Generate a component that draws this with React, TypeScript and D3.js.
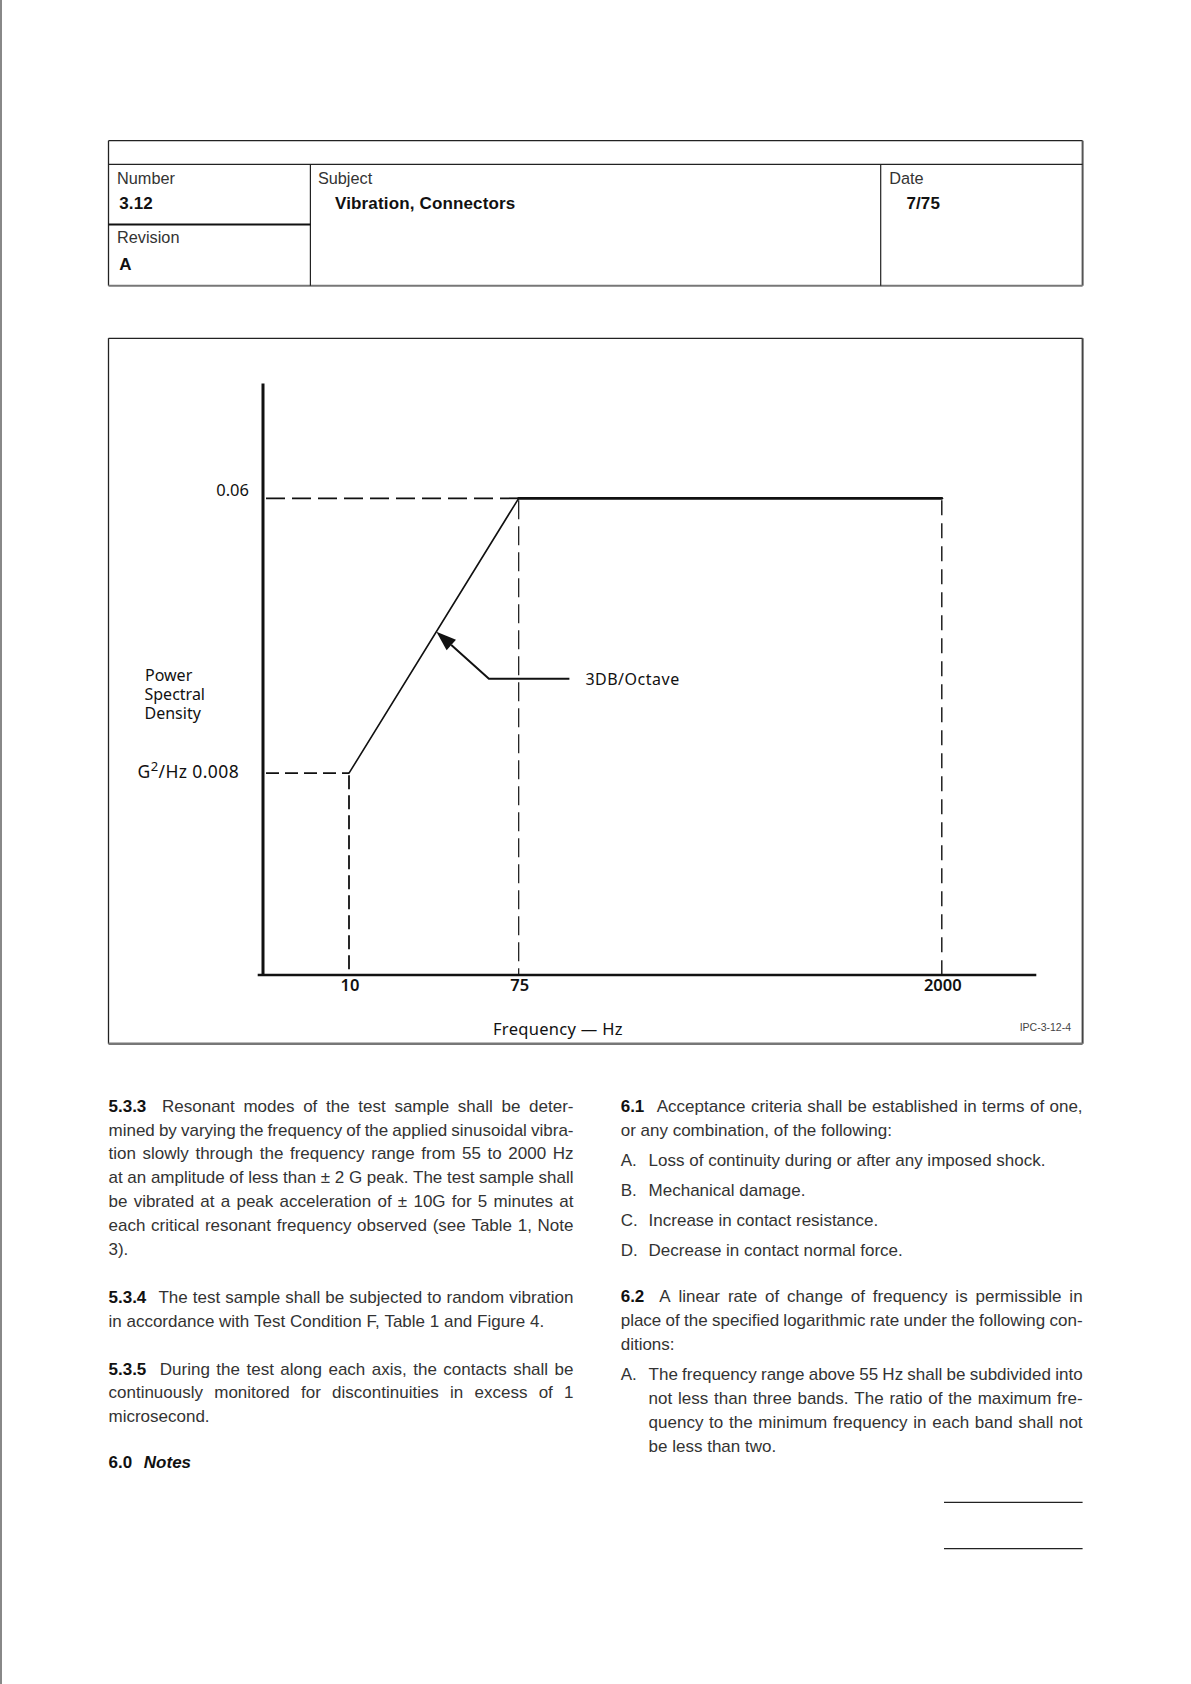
import React from 'react'
import * as d3 from 'd3'

// psd test profile (schematic)
const freqTicks = [10, 75, 2000]
const psdTicks = [0.008, 0.06]
const psdProfile = [
  { freq: 10, psd: 0.008 },
  { freq: 75, psd: 0.06 },
  { freq: 2000, psd: 0.06 },
]
const slopeNote = { label: '3DB/Octave', along: 0.515 }
const yTitle = ['Power', 'Spectral', 'Density']
const xTitle = 'Frequency — Hz'
const figureId = 'IPC-3-12-4'

const headerCells = [
  { title: 'Number', value: '3.12' },
  { title: 'Subject', value: 'Vibration, Connectors' },
  { title: 'Date', value: '7/75' },
  { title: 'Revision', value: 'A' },
]

const leftParas = [
  {
    label: '5.3.3',
    lines: [
      'Resonant modes of the test sample shall be deter-',
      'mined by varying the frequency of the applied sinusoidal vibra-',
      'tion slowly through the frequency range from 55 to 2000 Hz',
      'at an amplitude of less than ± 2 G peak. The test sample shall',
      'be vibrated at a peak acceleration of ± 10G for 5 minutes at',
      'each critical resonant frequency observed (see Table 1, Note',
      '3).',
    ],
  },
  {
    label: '5.3.4',
    lines: [
      'The test sample shall be subjected to random vibration',
      'in accordance with Test Condition F, Table 1 and Figure 4.',
    ],
  },
  {
    label: '5.3.5',
    lines: [
      'During the test along each axis, the contacts shall be',
      'continuously monitored for discontinuities in excess of 1',
      'microsecond.',
    ],
  },
]
const notesHeading = { label: '6.0', text: 'Notes' }

const rightBlocks = [
  {
    label: '6.1',
    lines: [
      'Acceptance criteria shall be established in terms of one,',
      'or any combination, of the following:',
    ],
    items: [
      { key: 'A.', lines: ['Loss of continuity during or after any imposed shock.'] },
      { key: 'B.', lines: ['Mechanical damage.'] },
      { key: 'C.', lines: ['Increase in contact resistance.'] },
      { key: 'D.', lines: ['Decrease in contact normal force.'] },
    ],
  },
  {
    label: '6.2',
    lines: [
      'A linear rate of change of frequency is permissible in',
      'place of the specified logarithmic rate under the following con-',
      'ditions:',
    ],
    items: [
      {
        key: 'A.',
        lines: [
          'The frequency range above 55 Hz shall be subdivided into',
          'not less than three bands. The ratio of the maximum fre-',
          'quency to the minimum frequency in each band shall not',
          'be less than two.',
        ],
      },
    ],
  },
]

const W = 1191
const H = 1684
const BODY = '"Liberation Sans", Arial, Helvetica, sans-serif'
const CHART = '"Noto Sans", "DejaVu Sans", sans-serif'
const bodySize = 17
const lineH = 23.9
const ink = '#333'

let measureCtx: CanvasRenderingContext2D | null = null
const textWidth = (s: string, font: string) => {
  if (!measureCtx) measureCtx = document.createElement('canvas').getContext('2d')
  measureCtx!.font = font
  return measureCtx!.measureText(s).width
}

type Word = { t: string, bold?: boolean, italic?: boolean, extra?: number }

const fontOf = (w: Word) => `${w.italic ? 'italic ' : ''}${w.bold ? 'bold ' : ''}${bodySize}px ${BODY}`

// one text line, words spread to the column width when justify is set
const TextLine = ({ x, y, width, words, justify }: { x: number, y: number, width: number, words: Word[], justify: boolean }) => {
  const widths = words.map((w) => textWidth(w.t, fontOf(w)))
  const extras = words.map((w) => w.extra || 0)
  const space = textWidth(' ', `${bodySize}px ${BODY}`)
  const gap = justify && words.length > 1
    ? (width - d3.sum(widths) - d3.sum(extras)) / (words.length - 1)
    : space
  let cx = x
  const xs = words.map((w, i) => {
    const p = cx
    cx += widths[i] + extras[i] + gap
    return p
  })
  return (
    <text y={y} fontFamily={BODY} fontSize={bodySize} fill={ink}>
      {words.map((w, i) => (
        <tspan key={i} x={xs[i]} fontWeight={w.bold ? 'bold' : 'normal'} fontStyle={w.italic ? 'italic' : 'normal'} fill={w.bold ? '#111' : ink}>{w.t}</tspan>
      ))}
    </text>
  )
}

const toWords = (s: string): Word[] => s.split(' ').filter(Boolean).map((t) => ({ t }))

export default function App() {
  // chart scales
  const x = d3.scaleLinear().domain(freqTicks).range([349, 518.7, 941.8])
  const y = d3.scaleLog().domain(psdTicks).range([773.2, 498.3])
  const axisX = 263
  const axisY = 975
  const line = d3.line<{ freq: number, psd: number }>().x((d) => x(d.freq)).y((d) => y(d.psd))
  const segments = d3.pairs(psdProfile)

  const rise = segments[0]
  const tip = d3.interpolate([x(rise[0].freq), y(rise[0].psd)], [x(rise[1].freq), y(rise[1].psd)])(slopeNote.along)
  const elbow = [tip[0] + 52.5, tip[1] + 47]
  const legEnd = [tip[0] + 133, tip[1] + 47]
  const ang = Math.atan2(tip[1] - elbow[1], tip[0] - elbow[0])
  const headL = 20
  const headW = 7
  const hx = tip[0] - headL * Math.cos(ang)
  const hy = tip[1] - headL * Math.sin(ang)
  const head = [
    [tip[0], tip[1]],
    [hx + headW * Math.sin(ang), hy - headW * Math.cos(ang)],
    [hx - headW * Math.sin(ang), hy + headW * Math.cos(ang)],
  ]

  const vDash = ['14 6', '19 7', '15 8']
  const vWidth = [1.8, 1.2, 1.4]

  // text layout
  const leftX = 108.5
  const leftW = 573.5 - 108.5
  const rightX = 620.7
  const rightW = 1082.6 - 620.7
  const itemIndent = 648.6 - 620.7
  const top = 1111.6

  const leftLines: React.ReactNode[] = []
  let cy = top
  leftParas.forEach((p, pi) => {
    p.lines.forEach((l, li) => {
      const words = li === 0 ? [{ t: p.label, bold: true, extra: 7 }, ...toWords(l)] : toWords(l)
      leftLines.push(<TextLine key={`${pi}-${li}`} x={leftX} y={cy} width={leftW} words={words} justify={li < p.lines.length - 1} />)
      cy += lineH
    })
    cy += lineH
  })
  leftLines.push(
    <TextLine key="notes" x={leftX} y={cy - 2} width={leftW} justify={false}
      words={[{ t: notesHeading.label, bold: true, extra: 7 }, { t: notesHeading.text, bold: true, italic: true }]} />,
  )

  const rightLines: React.ReactNode[] = []
  cy = top
  rightBlocks.forEach((b, bi) => {
    b.lines.forEach((l, li) => {
      const words = li === 0 ? [{ t: b.label, bold: true, extra: 7 }, ...toWords(l)] : toWords(l)
      rightLines.push(<TextLine key={`${bi}-${li}`} x={rightX} y={cy} width={rightW} words={words} justify={li < b.lines.length - 1} />)
      cy += lineH
    })
    b.items.forEach((it, ii) => {
      cy += 6.2
      rightLines.push(
        <text key={`${bi}-k${ii}`} x={rightX} y={cy} fontFamily={BODY} fontSize={bodySize} fill={ink}>{it.key}</text>,
      )
      it.lines.forEach((l, li) => {
        rightLines.push(
          <TextLine key={`${bi}-i${ii}-${li}`} x={rightX + itemIndent} y={cy} width={rightW - itemIndent}
            words={toWords(l)} justify={li < it.lines.length - 1} />,
        )
        cy += lineH
      })
    })
    cy += lineH - 1.5
  })

  // header table
  const hL = 108.5
  const hR = 1082.6
  const hT = 140.7
  const hB = 285.7
  const hRow = 164.3
  const c1 = 310.4
  const c2 = 880.7
  const hRev = 224.5
  const cellPos = [
    { tx: 117, vx: 119.2, ty: 184, vy: 208.5 },
    { tx: 317.9, vx: 335, ty: 184, vy: 208.5 },
    { tx: 889.2, vx: 906.4, ty: 184, vy: 208.5 },
    { tx: 117, vx: 119.2, ty: 243, vy: 269.7 },
  ]

  // chart frame
  const fL = 108.5
  const fR = 1082.6
  const fT = 338.3
  const fB = 1043.8

  return (
    <svg width={W} height={H} viewBox={`0 0 ${W} ${H}`} style={{ position: 'absolute', left: 0, top: 0, background: '#fff' }}>
      <rect x={0} y={0} width={W} height={H} fill="#fff" />
      <line x1={1} x2={1} y1={0} y2={H} stroke="#888" strokeWidth={2} />

      {/* header */}
      <g>
        <line x1={hL} x2={hR} y1={hT} y2={hT} stroke="#222" strokeWidth={1.3} />
        <line x1={hL} x2={hL} y1={hT} y2={hB} stroke="#222" strokeWidth={1.3} />
        <line x1={hR} x2={hR} y1={hT} y2={hB} stroke="#555" strokeWidth={2} />
        <line x1={hL} x2={hR} y1={hB} y2={hB} stroke="#777" strokeWidth={2} />
        <line x1={hL} x2={hR} y1={hRow} y2={hRow} stroke="#222" strokeWidth={1.3} />
        <line x1={c1} x2={c1} y1={hRow} y2={hB} stroke="#222" strokeWidth={1.2} />
        <line x1={c2} x2={c2} y1={hRow} y2={hB} stroke="#222" strokeWidth={1.2} />
        <line x1={hL} x2={c1} y1={hRev} y2={hRev} stroke="#111" strokeWidth={2} />
        {headerCells.map((c, i) => (
          <g key={c.title}>
            <text x={cellPos[i].tx} y={cellPos[i].ty} fontFamily={BODY} fontSize={16.3} fill="#333">{c.title}</text>
            <text x={cellPos[i].vx} y={cellPos[i].vy} fontFamily={BODY} fontSize={17} fontWeight="bold" letterSpacing={0.15} fill="#111">{c.value}</text>
          </g>
        ))}
      </g>

      {/* figure */}
      <g>
        <line x1={fL} x2={fR} y1={fT} y2={fT} stroke="#222" strokeWidth={1.3} />
        <line x1={fL} x2={fL} y1={fT} y2={fB} stroke="#222" strokeWidth={1.3} />
        <line x1={fR} x2={fR} y1={fT} y2={fB} stroke="#444" strokeWidth={2} />
        <line x1={fL} x2={fR} y1={fB} y2={fB} stroke="#777" strokeWidth={2.5} />

        {/* reference dashes */}
        <line x1={axisX + 3} x2={x(75)} y1={y(0.06)} y2={y(0.06)} stroke="#111" strokeWidth={1.8} strokeDasharray="19 7" />
        <line x1={axisX + 3} x2={x(10)} y1={y(0.008)} y2={y(0.008)} stroke="#111" strokeWidth={1.8} strokeDasharray="13 6" />
        {psdProfile.map((d, i) => (
          <line key={d.freq} x1={x(d.freq)} x2={x(d.freq)} y1={y(d.psd) + 2} y2={axisY}
            stroke="#111" strokeWidth={vWidth[i]} strokeDasharray={vDash[i]} />
        ))}

        {/* profile */}
        {segments.map((s, i) => (
          <path key={i} d={line(s) || ''} fill="none" stroke="#111"
            strokeWidth={s[0].psd === s[1].psd ? 2.8 : 1.6} strokeLinecap="round" />
        ))}

        {/* axes */}
        <line x1={axisX} x2={axisX} y1={383.4} y2={axisY + 1} stroke="#111" strokeWidth={3} />
        <line x1={257.7} x2={1036.3} y1={axisY} y2={axisY} stroke="#111" strokeWidth={2.6} />

        {/* slope annotation */}
        <polyline points={[[hx, hy], elbow, legEnd].map((p) => p.join(',')).join(' ')} fill="none" stroke="#111" strokeWidth={2} />
        <polygon points={head.map((p) => p.join(',')).join(' ')} fill="#111" />
        <text x={legEnd[0] + 16} y={legEnd[1] + 6} fontFamily={CHART} fontSize={16} letterSpacing={0.5} fill="#111">{slopeNote.label}</text>

        {/* tick labels */}
        {freqTicks.map((f) => (
          <text key={f} x={x(f) + 1} y={991} textAnchor="middle" fontFamily={CHART} fontSize={16.5} fontWeight={600} fill="#111">{f}</text>
        ))}
        <text x={249} y={y(0.06) - 2} textAnchor="end" fontFamily={CHART} fontSize={16.5} fill="#111">{psdTicks[1]}</text>
        <text x={137.5} y={y(0.008) + 4.5} fontFamily={CHART} fontSize={17.5} letterSpacing={0.4} fill="#111">
          G<tspan fontSize={13} dy={-7}>2</tspan><tspan dy={7}>/Hz {psdTicks[0]}</tspan>
        </text>
        <text fontFamily={CHART} fontSize={16} fill="#111">
          {yTitle.map((t, i) => (
            <tspan key={t} x={i === 0 ? 145 : 144.5} y={681 + i * 19}>{t}</tspan>
          ))}
        </text>
        <text x={493} y={1035} fontFamily={CHART} fontSize={16.5} letterSpacing={0.3} fill="#111">{xTitle}</text>
        <text x={1071} y={1031} textAnchor="end" fontFamily={BODY} fontSize={10.5} fill="#444">{figureId}</text>
      </g>

      {/* body text */}
      <g>{leftLines}</g>
      <g>{rightLines}</g>

      <line x1={944} x2={1082.6} y1={1502.4} y2={1502.4} stroke="#222" strokeWidth={1.2} />
      <line x1={944} x2={1082.6} y1={1548.6} y2={1548.6} stroke="#222" strokeWidth={1.2} />
    </svg>
  )
}
